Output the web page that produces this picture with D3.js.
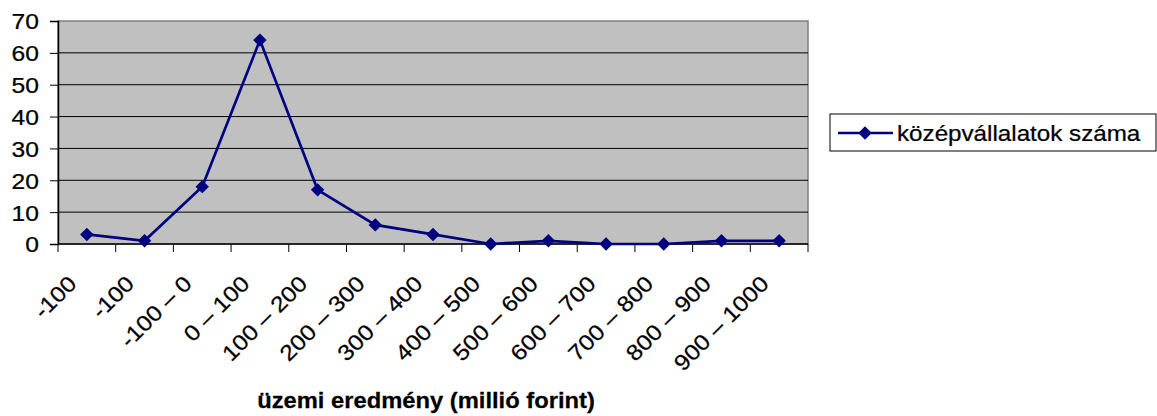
<!DOCTYPE html>
<html>
<head>
<meta charset="utf-8">
<script src="https://cdn.jsdelivr.net/npm/d3@7"></script>
<style>
  body { margin: 0; background: #fff; }
  text { font-family: "Liberation Sans", Arial, sans-serif; fill: #000; stroke: #000; stroke-width: 0.25px; }
</style>
</head>
<body>
<div id="chart"></div>
<script>
// data
const categories = ["-100", "-100", "-100 – 0", "0 – 100", "100 – 200", "200 – 300",
  "300 – 400", "400 – 500", "500 – 600", "600 – 700", "700 – 800", "800 – 900", "900 – 1000"]
const counts = [3, 1, 18, 64, 17, 6, 3, 0, 1, 0, 0, 1, 1]
const yTicks = [0, 10, 20, 30, 40, 50, 60, 70]
const seriesName = "középvállalatok száma"
const axisTitle = "üzemi eredmény (millió forint)"

const width = 1157
const height = 416
const plot = {left: 58, right: 808, top: 21, bottom: 244}
const navy = "#000080"
const fontSize = 22
const stretch = 1.12  // the original text is rendered a bit wider than normal

const svg = d3.select("#chart").append("svg")
  .attr("width", width)
  .attr("height", height)

const x = d3.scaleBand().domain(d3.range(categories.length)).range([plot.left, plot.right])
const y = d3.scaleLinear().domain([0, 70]).range([plot.bottom, plot.top])

// plot area
svg.append("rect")
  .attr("x", plot.left).attr("y", plot.top)
  .attr("width", plot.right - plot.left).attr("height", plot.bottom - plot.top)
  .attr("fill", "#c0c0c0").attr("stroke", "#808080").attr("stroke-width", 1.5)

// gridlines
svg.selectAll(".grid").data(yTicks.slice(1, -1)).enter().append("line")
  .attr("x1", plot.left).attr("x2", plot.right)
  .attr("y1", d => y(d)).attr("y2", d => y(d))
  .attr("stroke", "#000").attr("stroke-width", 1)

// y axis
const yAxis = svg.append("g").attr("transform", `translate(${plot.left},0)`)
  .call(d3.axisLeft(y).tickValues(yTicks).tickSize(8).tickPadding(0).tickFormat(d3.format("d")))
yAxis.select(".domain").attr("stroke", "#000").attr("stroke-width", 1.5)
yAxis.selectAll(".tick line").attr("stroke", "#000")
yAxis.selectAll(".tick text").remove()
yAxis.selectAll(".tick").append("text")
  .attr("transform", `translate(-19,0) scale(${stretch},1)`)
  .attr("dy", "0.36em")
  .attr("text-anchor", "end")
  .attr("font-size", fontSize)
  .text(d => d)

// x axis (ticks between categories)
const xAxis = svg.append("g").attr("transform", `translate(0,${plot.bottom})`)
xAxis.append("line")
  .attr("x1", plot.left).attr("x2", plot.right)
  .attr("stroke", "#000").attr("stroke-width", 1.5)
xAxis.selectAll(".xtick").data(d3.range(categories.length + 1)).enter().append("line")
  .attr("x1", i => plot.left + i * x.step()).attr("x2", i => plot.left + i * x.step())
  .attr("y1", 0).attr("y2", 8)
  .attr("stroke", "#000")
xAxis.selectAll(".xlabel").data(categories).enter().append("text")
  .attr("transform", (d, i) => `translate(${x(i) + x.bandwidth() / 2 - 9},41) rotate(-45) scale(${stretch},1)`)
  .attr("text-anchor", "end")
  .attr("font-size", fontSize)
  .text(d => d)

// axis title
svg.append("text")
  .attr("transform", `translate(${(plot.left + plot.right) / 2 - 7},408) scale(1.08,1)`)
  .attr("text-anchor", "middle")
  .attr("font-size", fontSize)
  .attr("font-weight", "bold")
  .text(axisTitle)

// series line
const line = d3.line()
  .x((d, i) => x(i) + x.bandwidth() / 2)
  .y(d => y(d))
svg.append("path").datum(counts)
  .attr("d", line)
  .attr("fill", "none").attr("stroke", navy).attr("stroke-width", 2.7)

const diamond = d3.symbol().type(d3.symbolDiamond2).size(115)
svg.selectAll(".marker").data(counts).enter().append("path")
  .attr("d", diamond)
  .attr("transform", (d, i) => `translate(${x(i) + x.bandwidth() / 2},${y(d)})`)
  .attr("fill", navy)

// legend
const legend = svg.append("g").attr("transform", "translate(830,114)")
legend.append("rect")
  .attr("width", 326).attr("height", 37)
  .attr("fill", "#fff").attr("stroke", "#000").attr("stroke-width", 1)
legend.append("line")
  .attr("x1", 8).attr("x2", 63).attr("y1", 19).attr("y2", 19)
  .attr("stroke", navy).attr("stroke-width", 2.7)
legend.append("path")
  .attr("d", diamond)
  .attr("transform", "translate(35,19)")
  .attr("fill", navy)
legend.append("text")
  .attr("transform", `translate(67,19) scale(1.1,1)`)
  .attr("dy", "0.36em")
  .attr("font-size", fontSize)
  .text(seriesName)
</script>
</body>
</html>
